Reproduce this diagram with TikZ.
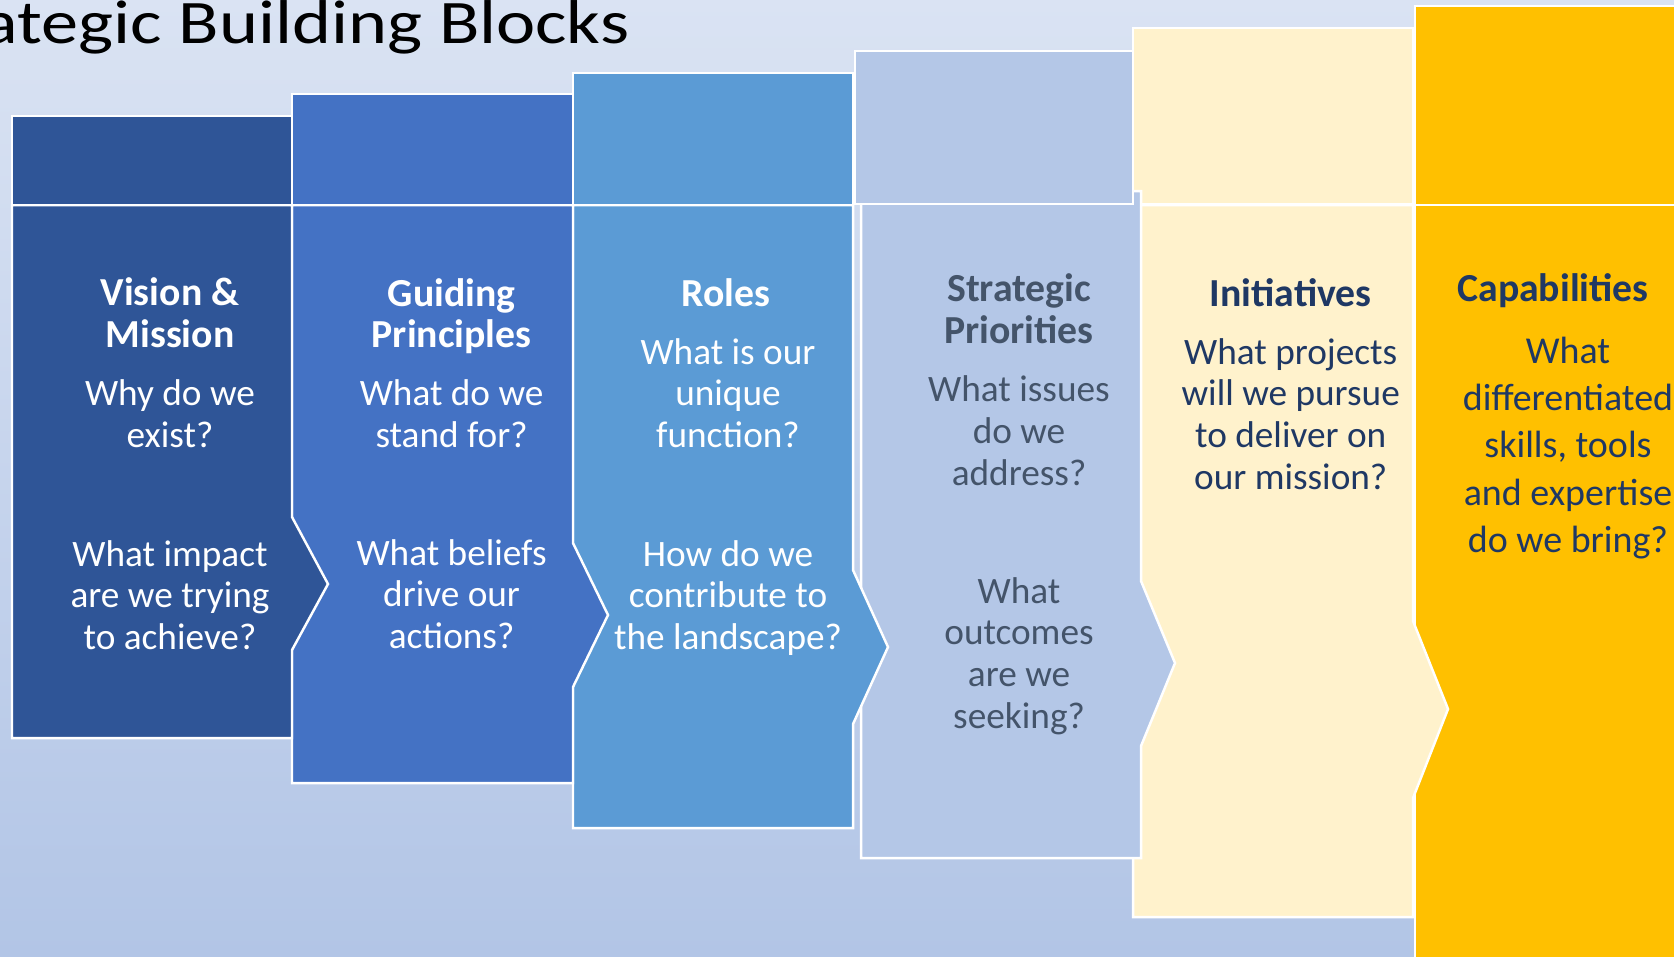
\documentclass[tikz,border=0pt]{standalone}
\usepackage{fontspec}
\setmainfont{Carlito}
\newfontfamily\titlefont[FakeStretch=1.2]{Carlito}
\definecolor{bgtop}{RGB}{218,227,243}
\definecolor{bgbot}{RGB}{178,197,230}
\definecolor{vmblue}{RGB}{47,85,151}
\definecolor{gpblue}{RGB}{68,114,196}
\definecolor{roblue}{RGB}{91,155,213}
\definecolor{spblue}{RGB}{180,199,231}
\definecolor{incream}{RGB}{255,242,204}
\definecolor{cagold}{RGB}{255,192,0}
\definecolor{sptext}{RGB}{68,84,106}
\definecolor{navytext}{RGB}{31,56,100}
\tikzstyle{block} = [draw=white, line width=0.7pt]
\tikzstyle{head} = [align=center, inner sep=0pt, font=\fontsize{11.3}{11.85}\selectfont\bfseries]
\tikzstyle{ask} = [align=center, inner sep=0pt, font=\fontsize{10.6}{11.85}\selectfont]

\begin{document}
\begin{tikzpicture}[x=0.01cm, y=-0.01cm]
\useasboundingbox (0,0) rectangle (1674,956);
\clip (0,0) rectangle (1674,956);
\shade[top color=bgtop, bottom color=bgbot] (0,0) rectangle (1674,956);

\node[anchor=base east, inner sep=0pt, font=\titlefont\fontsize{17.6}{20}\selectfont] (title) at (630,43) {ategic Building Blocks};

% columns, drawn right to left so each arrow lies on the next column
\filldraw[block, fill=cagold] (1415,205) -- (1700,205) -- (1700,1000) -- (1415,1000) -- cycle;
\filldraw[block, fill=cagold] (1415,6) rectangle (1700,205);

\filldraw[block, fill=incream] (1133,205) -- (1413,205) -- (1413,621) -- (1448,709) -- (1413,798) -- (1413,917) -- (1133,917) -- cycle;
\filldraw[block, fill=incream] (1133,28) rectangle (1413,204);

\filldraw[block, fill=spblue] (861,191) -- (1141,191) -- (1141,581) -- (1175,663) -- (1141,746) -- (1141,858) -- (861,858) -- cycle;
\filldraw[block, fill=spblue] (855,51) rectangle (1133,204);

\filldraw[block, fill=roblue] (573,205) -- (853,205) -- (853,570) -- (888,647) -- (853,724) -- (853,828) -- (573,828) -- cycle;
\filldraw[block, fill=roblue] (573,73) rectangle (853,205);

\filldraw[block, fill=gpblue] (292,205) -- (573,205) -- (573,543) -- (608,615) -- (573,687) -- (573,783) -- (292,783) -- cycle;
\filldraw[block, fill=gpblue] (292,94) rectangle (573,205);

\filldraw[block, fill=vmblue] (12,205) -- (292,205) -- (292,517) -- (328,584) -- (292,650) -- (292,738) -- (12,738) -- cycle;
\filldraw[block, fill=vmblue] (12,116) rectangle (292,205);

% texts
\node[head, text=white] (vmhead) at (170,313) {Vision \&\\Mission};
\node[ask, text=white] (vmwhy) at (170,414) {Why do we\\exist?};
\node[ask, text=white] (vmimpact) at (170,595) {What impact\\are we trying\\to achieve?};

\node[head, text=white] (gphead) at (451.6,316) {Guiding\\Principles};
\node[ask, text=white] (gpstand) at (451.6,414) {What do we\\stand for?};
\node[ask, text=white] (gpbelief) at (451.6,594) {What beliefs\\drive our\\actions?};

\node[head, text=white] (rohead) at (726,292.5) {Roles};
\node[ask, text=white] (rofunc) at (728,393) {What is our\\unique\\function?};
\node[ask, text=white] (rocontrib) at (728,598) {How do we\\contribute to\\the landscape?};

\node[head, text=sptext] (sphead) at (1019,308.5) {Strategic\\Priorities};
\node[ask, text=sptext] (spissue) at (1019,430.5) {What issues\\do we\\address?};
\node[ask, text=sptext] (spoutcome) at (1019,656) {What\\outcomes\\are we\\seeking?};

\node[head, text=navytext] (inhead) at (1290.7,292.5) {Initiatives};
\node[ask, text=navytext] (inproject) at (1290.7,414) {What projects\\will we pursue\\to deliver on\\our mission?};

\node[head, text=navytext] (cahead) at (1553,291) {Capabilities};
\node[ask, text=navytext, font=\fontsize{10.8}{13.4}\selectfont] (caskill) at (1568,448) {What\\differentiated\\skills, tools\\and expertise\\do we bring?};

\end{tikzpicture}
\end{document}
